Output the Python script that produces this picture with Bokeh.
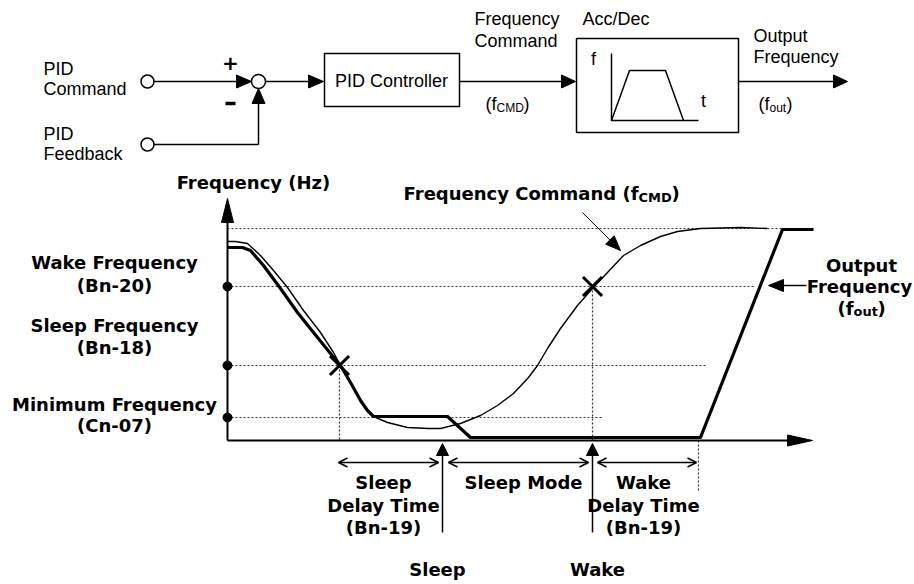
import math
from bokeh.plotting import figure
from bokeh.models import Range1d, Arrow, OpenHead
from bokeh.core.properties import value
from bokeh.embed import file_html
from bokeh.resources import INLINE

# ---------------- data (diagram units; y grows downward) ----------------
# frequency levels: max, wake (Bn-20), sleep (Bn-18), minimum (Cn-07)
LEVEL_Y = [228, 286, 365, 417]
LEVEL_END = [782, 755, 705, 602]
MARKED_LEVELS = [286, 365, 417]

# output frequency f_out (thick)
F_OUT_T = [227, 242, 250, 263, 280, 297, 313, 330, 340, 350, 360, 367, 373, 447, 470, 700, 782, 813]
F_OUT_Y = [247, 247, 250, 265, 288, 312, 332, 353, 365, 382, 400, 410, 416, 416, 437, 437, 229, 229]

# frequency command f_CMD (thin)
F_CMD_T = [227, 235, 247, 260, 273, 287, 303, 320, 333, 340, 350, 360, 367, 373, 387, 407, 428,
           440, 460, 480, 497, 513, 528, 537, 547, 560, 577, 592, 607, 623, 640, 660, 677, 700,
           740, 767]
F_CMD_Y = [241, 241, 243, 255, 270, 287, 310, 332, 352, 365, 382, 400, 410, 416, 422, 427, 428,
           428, 423, 415, 405, 393, 377, 365, 348, 328, 305, 288, 272, 255, 245, 236, 231, 228,
           227, 228]

CROSS_T = [339, 592]
CROSS_Y = [365, 286]

# time events
T_DELAY_START = 339
T_SLEEP = 442
T_WAKE = 592
T_WAKE_END = 698

LEFT_LABELS = ["Wake Frequency", "(Bn-20)", "Sleep Frequency", "(Bn-18)",
               "Minimum Frequency", "(Cn-07)"]
LEFT_LABEL_Y = [262, 285, 325, 347, 404, 425]

# ---------------- figure ----------------
W, H = 914, 584
p = figure(width=W, height=H, x_range=Range1d(0, W), y_range=Range1d(H, 0),
           x_axis_type=None, y_axis_type=None, toolbar_location=None,
           output_backend="svg", min_border=0)
p.grid.visible = False
p.outline_line_color = None
p.background_fill_color = "white"
p.border_fill_color = "white"

BOLD = value("DejaVu Sans")
REG = value("Liberation Sans")


def head(tx, ty, dx, dy, length, width):
    n = math.hypot(dx, dy)
    ux, uy = dx / n, dy / n
    bx, by = tx - ux * length, ty - uy * length
    px, py = -uy * width / 2, ux * width / 2
    return [tx, bx + px, bx - px], [ty, by + py, by - py]


heads_x, heads_y = [], []


def arrow_line(x0, y0, x1, y1, length, width, lw=1.5):
    n = math.hypot(x1 - x0, y1 - y0)
    ux, uy = (x1 - x0) / n, (y1 - y0) / n
    p.line([x0, x1 - ux * (length - 1)], [y0, y1 - uy * (length - 1)], line_color="black", line_width=lw)
    hx, hy = head(x1, y1, x1 - x0, y1 - y0, length, width)
    heads_x.append(hx)
    heads_y.append(hy)


def txt(x, y, t, size="18px", font=REG, style="normal", align="left", baseline="middle"):
    p.text(x=[x], y=[y], text=[t], text_font=font, text_font_size=size, text_font_style=style,
           text_align=align, text_baseline=baseline, text_color="black")


# ---------------- top block diagram ----------------
CMD_C = (147, 81)
FB_C = (147, 144)
SUM_C = (258, 81)
PID_BOX = (324, 459, 53, 106)
ACC_BOX = (576, 738, 38, 132)

arrow_line(CMD_C[0] + 6, CMD_C[1], SUM_C[0] - 7, SUM_C[1], 15, 13)
p.line([FB_C[0] + 6, SUM_C[0]], [FB_C[1], FB_C[1]], line_color="black", line_width=1.5)
arrow_line(SUM_C[0], FB_C[1], SUM_C[0], SUM_C[1] + 7, 15, 13)
arrow_line(SUM_C[0] + 7, SUM_C[1], PID_BOX[0] - 1, SUM_C[1], 15, 13)
arrow_line(PID_BOX[1], SUM_C[1], ACC_BOX[0] - 1, SUM_C[1], 14, 13)
arrow_line(ACC_BOX[1], SUM_C[1], 847, SUM_C[1], 14, 13)

p.scatter([CMD_C[0], FB_C[0], SUM_C[0]], [CMD_C[1], FB_C[1], SUM_C[1]], marker="circle",
          size=[13, 13, 14], fill_color="white", line_color="black", line_width=1.5)

for b in (PID_BOX, ACC_BOX):
    p.quad(left=b[0], right=b[1], top=b[2], bottom=b[3], fill_color=None,
           line_color="black", line_width=1.5)

# small f-t sketch inside the Acc/Dec box
p.line([611, 611, 698], [53, 120, 120], line_color="black", line_width=1.5)
p.line([611, 629, 665, 683], [120, 70, 70, 120], line_color="black", line_width=1.5)
txt(593, 58, "f", align="center")
txt(703, 100, "t", align="center")

txt(43, 68, "PID")
txt(43, 88, "Command")
txt(43, 133, "PID")
txt(43, 153, "Feedback")
txt(230, 62, "+", size="20px", font=BOLD, style="bold", align="center")
p.line([225, 235], [103, 103], line_color="black", line_width=3.5)
txt(391, 80, "PID Controller", align="center")
txt(474, 18, "Frequency")
txt(474, 40, "Command")
txt(496, 103, "(f", align="right")
txt(496, 107, "CMD", size="12px")
txt(523, 103, ")")
txt(582, 18, "Acc/Dec")
txt(753, 35, "Output")
txt(753, 56, "Frequency")
txt(769, 103, "(f", align="right")
txt(769, 107, "out", size="12px")
txt(786, 103, ")")

# ---------------- lower timing chart ----------------
AX_X, AX_Y = 227, 440

# dotted guide lines
for ly, le in zip(LEVEL_Y, LEVEL_END):
    p.line([AX_X, le], [ly, ly], line_color="#333333", line_width=1.2, line_dash="2 2")
p.line([T_DELAY_START, T_DELAY_START], [CROSS_Y[0], AX_Y], line_color="#333333", line_width=1.2, line_dash="2 2")
p.line([T_WAKE, T_WAKE], [CROSS_Y[1], AX_Y], line_color="#333333", line_width=1.2, line_dash="2 2")
p.line([T_WAKE_END, T_WAKE_END], [AX_Y, 492], line_color="#333333", line_width=1.2, line_dash="2 2")

# axes
p.line([AX_X, AX_X], [AX_Y, 220], line_color="black", line_width=2)
p.line([AX_X, 789], [AX_Y, AX_Y], line_color="black", line_width=2)
hx, hy = head(AX_X, 198, 0, -1, 24, 12)
heads_x.append(hx); heads_y.append(hy)
hx, hy = head(812, AX_Y, 1, 0, 25, 11)
heads_x.append(hx); heads_y.append(hy)

# curves
p.line(F_CMD_T, F_CMD_Y, line_color="black", line_width=1.4, line_join="round")
p.line(F_OUT_T, F_OUT_Y, line_color="black", line_width=3.2, line_join="round")

p.scatter([AX_X] * len(MARKED_LEVELS), MARKED_LEVELS, marker="circle", size=9,
          fill_color="black", line_color="black")
p.scatter(CROSS_T, CROSS_Y, marker="x", size=27, line_color="black", line_width=3)

# pointer arrows
arrow_line(582, 212, 620, 250, 15, 12, lw=1)
arrow_line(806, 285, 768, 285, 15, 12, lw=1.5)

# event arrows below the axis
for t in (T_SLEEP, T_WAKE):
    p.line([t, t], [454, 532], line_color="black", line_width=1.5)
    hx, hy = head(t, 443, 0, -1, 12, 12)
    heads_x.append(hx); heads_y.append(hy)

for a, b in ((T_DELAY_START - 1, T_SLEEP - 4), (T_SLEEP + 6, T_WAKE - 4), (T_WAKE + 5, T_WAKE_END - 2)):
    p.add_layout(Arrow(x_start=a, y_start=462, x_end=b, y_end=462, line_width=1.5,
                       start=OpenHead(size=9, line_width=1.5), end=OpenHead(size=9, line_width=1.5)))

p.patches(heads_x, heads_y, fill_color="black", line_color="black", line_width=1)

# labels
txt(253, 182, "Frequency (Hz)", font=BOLD, style="bold", align="center")
for lab, ly in zip(LEFT_LABELS, LEFT_LABEL_Y):
    txt(114, ly, lab, font=BOLD, style="bold", align="center")

txt(638, 193, "Frequency Command (f", font=BOLD, style="bold", align="right")
txt(638, 197, "CMD", size="13px", font=BOLD, style="bold")
txt(671, 193, ")", font=BOLD, style="bold")

txt(861, 265, "Output", font=BOLD, style="bold", align="center")
txt(859, 286, "Frequency", font=BOLD, style="bold", align="center")
txt(853, 308, "(f", font=BOLD, style="bold", align="right")
txt(853, 311, "out", size="13px", font=BOLD, style="bold")
txt(877, 308, ")", font=BOLD, style="bold")

for lines, cx in ((["Sleep", "Delay Time", "(Bn-19)"], 383),
                  (["Sleep Mode"], 523),
                  (["Wake", "Delay Time", "(Bn-19)"], 643)):
    for i, s in enumerate(lines):
        txt(cx, 482 + 22.5 * i, s, font=BOLD, style="bold", align="center")

txt(T_SLEEP - 5, 569, "Sleep", font=BOLD, style="bold", align="center")
txt(T_WAKE + 5, 569, "Wake", font=BOLD, style="bold", align="center")

open("out.html", "w").write(file_html(p, INLINE))
